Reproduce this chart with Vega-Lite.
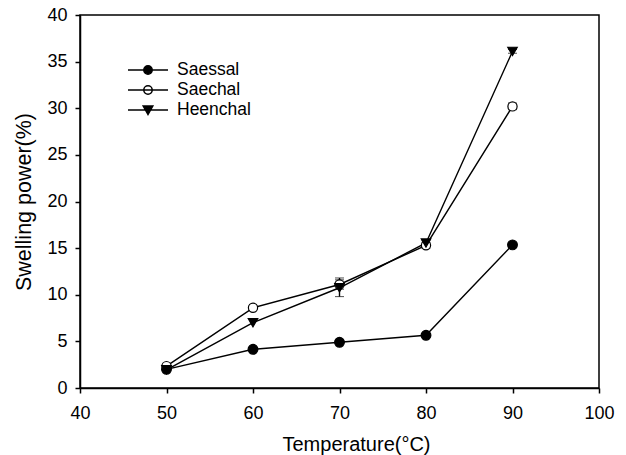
{
  "$schema": "https://vega.github.io/schema/vega-lite/v6.json",
  "width": 519,
  "height": 373,
  "autosize": "none",
  "padding": {"left": 80, "top": 15, "right": 27, "bottom": 67},
  "background": "white",
  "config": {
    "font": "Liberation Sans",
    "view": {"stroke": "black", "strokeWidth": 1.5},
    "scale": {"continuousPadding": 0},
    "axis": {
      "grid": false,
      "labelFlush": false,
      "domainColor": "black",
      "domainWidth": 1.5,
      "tickColor": "black",
      "tickWidth": 1.5,
      "tickSize": 5,
      "labelColor": "black",
      "labelFontSize": 18,
      "labelFont": "Liberation Sans",
      "titleColor": "black",
      "titleFont": "Liberation Sans",
      "titleFontWeight": "normal",
      "titleFontSize": 20
    }
  },
  "datasets": {
    "pts": [
      {"series": "Saessal", "temp": 50, "value": 2.0},
      {"series": "Saessal", "temp": 60, "value": 4.15},
      {"series": "Saessal", "temp": 70, "value": 4.9},
      {"series": "Saessal", "temp": 80, "value": 5.65},
      {"series": "Saessal", "temp": 90, "value": 15.35},
      {"series": "Saechal", "temp": 50, "value": 2.35},
      {"series": "Saechal", "temp": 60, "value": 8.6},
      {"series": "Saechal", "temp": 70, "value": 11.1},
      {"series": "Saechal", "temp": 80, "value": 15.3},
      {"series": "Saechal", "temp": 90, "value": 30.2},
      {"series": "Heenchal", "temp": 50, "value": 1.95},
      {"series": "Heenchal", "temp": 60, "value": 7.0},
      {"series": "Heenchal", "temp": 70, "value": 10.75},
      {"series": "Heenchal", "temp": 80, "value": 15.55},
      {"series": "Heenchal", "temp": 90, "value": 36.1}
    ],
    "err": [
      {"series": "Saessal", "temp": 80, "lo": 5.45, "hi": 5.85},
      {"series": "Saessal", "temp": 90, "lo": 15.2, "hi": 15.5},
      {"series": "Saechal", "temp": 70, "lo": 10.6, "hi": 11.6},
      {"series": "Saechal", "temp": 80, "lo": 15.0, "hi": 15.6},
      {"series": "Saechal", "temp": 90, "lo": 29.85, "hi": 30.55},
      {"series": "Heenchal", "temp": 70, "lo": 9.8, "hi": 11.8},
      {"series": "Heenchal", "temp": 80, "lo": 15.3, "hi": 15.8},
      {"series": "Heenchal", "temp": 90, "lo": 35.9, "hi": 36.3}
    ]
  },
  "layer": [
    {
      "data": {"name": "pts"},
      "mark": {"type": "line", "color": "black", "strokeWidth": 1.4},
      "encoding": {
        "x": {"field": "temp", "type": "quantitative", "title": "Temperature(°C)",
              "scale": {"domain": [40, 100], "nice": false, "zero": false, "padding": 0},
              "axis": {"values": [40, 50, 60, 70, 80, 90, 100], "labelPadding": 11, "titlePadding": 12, "titleX": 276}},
        "y": {"field": "value", "type": "quantitative", "title": "Swelling power(%)",
              "scale": {"domain": [0, 40], "nice": false, "padding": 0},
              "axis": {"values": [0, 5, 10, 15, 20, 25, 30, 35, 40], "labelPadding": 8, "titlePadding": 11, "titleFontSize": 21.5}},
        "detail": {"field": "series"}
      }
    },
    {
      "data": {"name": "err"},
      "mark": {"type": "errorbar", "ticks": {"size": 9, "color": "black", "strokeWidth": 1.5}, "rule": {"color": "black", "strokeWidth": 1.4}},
      "encoding": {
        "x": {"field": "temp", "type": "quantitative", "title": "Temperature(°C)"},
        "y": {"field": "lo", "type": "quantitative", "title": "Swelling power(%)"},
        "y2": {"field": "hi"}
      }
    },
    {
      "data": {"name": "pts"},
      "transform": [{"filter": "datum.series === 'Saessal'"}],
      "mark": {"type": "point", "shape": "circle", "filled": true, "fill": "black", "stroke": "black", "strokeWidth": 1.2, "size": 95, "opacity": 1},
      "encoding": {
        "x": {"field": "temp", "type": "quantitative", "title": "Temperature(°C)"},
        "y": {"field": "value", "type": "quantitative", "title": "Swelling power(%)"}
      }
    },
    {
      "data": {"name": "pts"},
      "transform": [{"filter": "datum.series === 'Saechal'"}],
      "mark": {"type": "point", "shape": "circle", "filled": true, "fill": "white", "stroke": "black", "strokeWidth": 1.2, "size": 85, "opacity": 1},
      "encoding": {
        "x": {"field": "temp", "type": "quantitative", "title": "Temperature(°C)"},
        "y": {"field": "value", "type": "quantitative", "title": "Swelling power(%)"}
      }
    },
    {
      "data": {"name": "pts"},
      "transform": [{"filter": "datum.series === 'Heenchal'"}],
      "mark": {"type": "point", "shape": "triangle-down", "filled": true, "fill": "black", "stroke": "black", "strokeWidth": 1.2, "size": 90, "opacity": 1},
      "encoding": {
        "x": {"field": "temp", "type": "quantitative", "title": "Temperature(°C)"},
        "y": {"field": "value", "type": "quantitative", "title": "Swelling power(%)"}
      }
    },
    {
      "data": {"name": "pts"},
      "mark": {"type": "point", "filled": true, "stroke": "black", "size": 400, "opacity": 0},
      "encoding": {
        "x": {"field": "temp", "type": "quantitative", "title": "Temperature(°C)"},
        "y": {"field": "value", "type": "quantitative", "title": "Swelling power(%)"},
        "shape": {"field": "series", "type": "nominal",
                  "scale": {"domain": ["Saessal", "Saechal", "Heenchal"],
                            "range": ["M-2,0H2M0.42,0A0.42,0.42 0 1,1 -0.42,0A0.42,0.42 0 1,1 0.42,0Z",
                                      "M-2,0H2M0.42,0A0.42,0.42 0 1,1 -0.42,0A0.42,0.42 0 1,1 0.42,0Z",
                                      "M-2,0H2M-0.48,-0.4L0.48,-0.4L0,0.45Z"]},
                  "legend": {"orient": "none", "legendX": 57, "legendY": 44, "title": null, "padding": 0,
                             "rowPadding": -4.5, "symbolSize": 400, "symbolOpacity": 1, "symbolStrokeWidth": 1.5,
                             "symbolStrokeColor": "black", "labelFontSize": 17.5, "labelFont": "Liberation Sans",
                             "labelColor": "black", "labelOffset": 18,
                             "encode": {"symbols": {"update": {
                               "stroke": {"value": "black"},
                               "strokeWidth": {"value": 1.5},
                               "size": {"value": 400},
                               "opacity": {"value": 1}
                             }}}}},
        "fill": {"field": "series", "type": "nominal",
                 "scale": {"domain": ["Saessal", "Saechal", "Heenchal"], "range": ["black", "white", "black"]},
                 "legend": {"orient": "none", "legendX": 57, "legendY": 44, "title": null, "padding": 0,
                             "rowPadding": -4.5, "symbolSize": 400, "symbolOpacity": 1, "symbolStrokeWidth": 1.5,
                             "symbolStrokeColor": "black", "labelFontSize": 17.5, "labelFont": "Liberation Sans",
                             "labelColor": "black", "labelOffset": 18,
                             "encode": {"symbols": {"update": {
                               "stroke": {"value": "black"},
                               "strokeWidth": {"value": 1.5},
                               "size": {"value": 400},
                               "opacity": {"value": 1}
                             }}}}}
      }
    }
  ]
}
